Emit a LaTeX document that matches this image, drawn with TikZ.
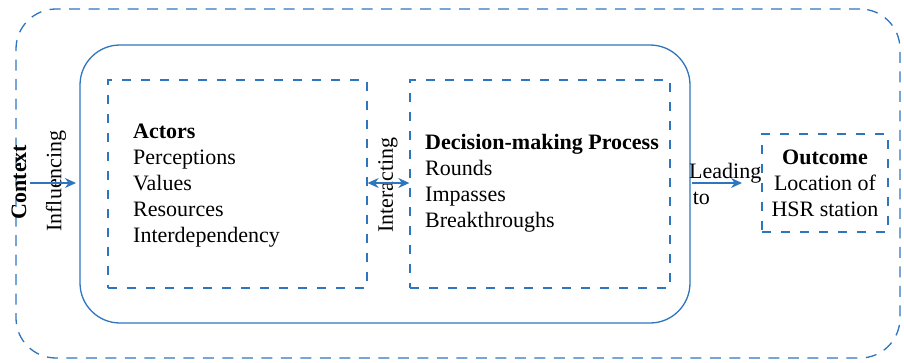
\documentclass[tikz,border=0pt]{standalone}
\usepackage{fontspec}
\setmainfont{Liberation Serif}
\usetikzlibrary{arrows.meta}
\definecolor{lineblue}{RGB}{46,117,190}
\begin{document}
\begin{tikzpicture}[x=1pt,y=-1pt,
  dashbox/.style={draw=lineblue,line width=1.3pt,dash pattern=on 9pt off 10pt,inner sep=0pt},
  outerdash/.style={draw=lineblue,line width=1.3pt,dash pattern=on 11pt off 8.5pt,inner sep=0pt},
  solidbox/.style={draw=lineblue,line width=1.3pt,inner sep=0pt},
  lbl/.style={font=\fontsize{22}{26}\selectfont,inner sep=0pt},
  arr/.style={draw=lineblue,line width=1.3pt,-{Stealth[length=11pt,width=10pt]}},
  darr/.style={draw=lineblue,line width=1.3pt,{Stealth[length=11pt,width=10pt]}-{Stealth[length=11pt,width=10pt]}}]
\useasboundingbox (0,0) rectangle (904,362);
\node[outerdash,rounded corners=40pt,minimum width=884pt,minimum height=349pt] (outer) at (458,183.5) {};
\node[solidbox,rounded corners=40pt,minimum width=610pt,minimum height=278pt] (inner) at (385,184) {};
\node[dashbox,minimum width=259pt,minimum height=208pt] (actors) at (237.5,184) {};
\node[dashbox,minimum width=260pt,minimum height=208pt] (decision) at (540,184) {};
\node[dashbox,minimum width=126pt,minimum height=98pt] (outcome) at (825,183) {};

\node[lbl,anchor=west,align=left] (actorstxt) at (133,186) {\textbf{Actors}\\Perceptions\\Values\\Resources\\Interdependency};
\node[lbl,anchor=west,align=left] (dectxt) at (425,183) {\textbf{Decision-making Process}\\Rounds\\Impasses\\Breakthroughs};
\node[lbl,align=center] (outtxt) at (825,183) {\textbf{Outcome}\\Location of\\HSR station};

\node[lbl,rotate=90] (context) at (19,182) {\textbf{Context}};
\node[lbl,rotate=90] (infl) at (56,181) {Influencing};
\node[lbl,rotate=90] (inter) at (388,185) {Interacting};
\node[lbl,anchor=west,align=left] (lead) at (689,184) {Leading\\\,to};

\coordinate (ia) at (30,183);
\coordinate (ib) at (76,183);
\coordinate (la) at (692,183);
\coordinate (lb) at (742,183);
\draw[arr] (ia) -- (ib);
\draw[darr] (actors.east |- 0,183) -- (decision.west |- 0,183);
\draw[arr] (la) -- (lb);
\end{tikzpicture}
\end{document}
